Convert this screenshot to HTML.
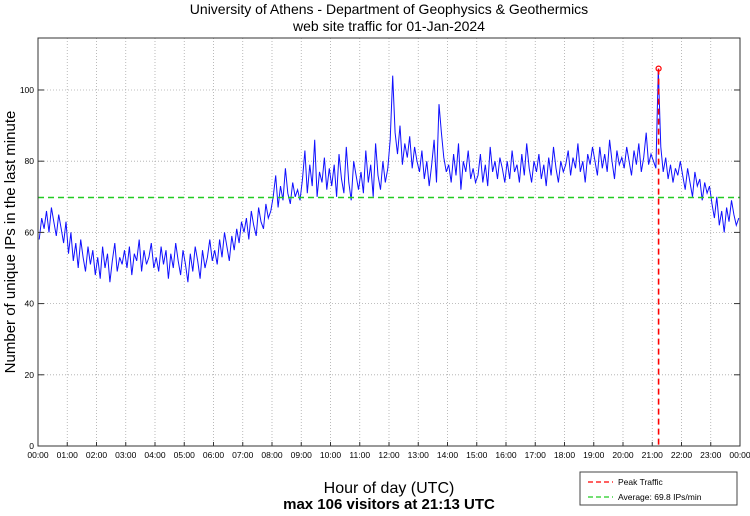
<!DOCTYPE html>
<html><head><meta charset="utf-8"><style>
body{margin:0;background:#fff;}
svg text{font-family:"Liberation Sans",sans-serif;}
</style></head><body>
<svg id="chart" width="750" height="511" xmlns="http://www.w3.org/2000/svg">
<rect width="750" height="511" fill="#fff"/>
<text x="389" y="14" font-size="14" text-anchor="middle">University of Athens - Department of Geophysics &amp; Geothermics</text>
<text x="389" y="31" font-size="14" text-anchor="middle">web site traffic for 01-Jan-2024</text>
<text transform="translate(15,242) rotate(-90)" font-size="15" text-anchor="middle">Number of unique IPs in the last minute</text>
<text x="389" y="493" font-size="16" text-anchor="middle">Hour of day (UTC)</text>
<text x="389" y="509" font-size="15" font-weight="bold" text-anchor="middle">max 106 visitors at 21:13 UTC</text>
<g id="grid"></g><g id="series"></g><g id="axes"></g>
<g>
<rect x="580" y="472" width="157" height="33" fill="#fff" stroke="#444" stroke-width="1"/>
<line x1="588" y1="482" x2="613" y2="482" stroke="#f00" stroke-width="1.2" stroke-dasharray="5,3"/>
<text x="618" y="485" font-size="8.5">Peak Traffic</text>
<line x1="588" y1="497" x2="613" y2="497" stroke="#2c2" stroke-width="1.2" stroke-dasharray="5,3"/>
<text x="618" y="500" font-size="8.5">Average: 69.8 IPs/min</text>
</g>
</svg>
<script>
const hourLabels=["00:00","01:00","02:00","03:00","04:00","05:00","06:00","07:00","08:00","09:00","10:00","11:00","12:00","13:00","14:00","15:00","16:00","17:00","18:00","19:00","20:00","21:00","22:00","23:00","00:00"];
const yTicks=[0,20,40,60,80,100];
const averageValue=69.8;
const peakMinute=21*60+13;
const peakValue=106;
const visitors=[
58,64,61,66,60,67,63,59,65,61,57,63,
54,60,52,57,50,58,53,49,56,51,55,48,
53,47,56,50,54,46,52,57,49,53,51,55,
50,56,48,54,52,58,49,55,51,53,57,50,
53,49,56,51,55,47,54,50,57,52,48,55,
51,46,54,49,56,52,47,55,50,53,58,52,
55,51,58,53,60,56,52,59,55,61,57,63,
60,64,58,66,62,59,67,63,61,68,64,66,
70,76,67,73,69,78,71,68,74,70,72,69,
75,83,71,79,73,86,70,77,74,81,72,78,
73,79,70,82,75,71,84,74,69,80,76,72,
77,71,83,74,79,70,85,76,72,80,74,78,
86,104,88,82,90,79,85,81,87,78,84,80,
77,83,75,80,73,79,86,74,96,88,81,77,
79,74,82,76,85,72,80,77,83,75,78,74,
76,82,74,79,73,84,77,80,75,81,78,74,
80,75,83,77,79,74,82,76,85,78,74,80,
77,82,75,79,73,81,76,84,78,74,80,77,
79,83,76,81,78,85,77,80,74,82,79,84,
80,76,84,78,82,77,86,80,75,83,79,81,
78,84,80,76,83,79,85,77,81,88,79,82,
80,78,106,84,77,81,75,79,74,78,76,80,
76,72,78,74,70,77,73,75,69,74,71,73,
68,64,70,62,66,60,67,63,69,65,62,64];
const stepMinutes=5;
const L=38,R=740,T=38,B=446,YMAX=114.6;
const xs=m=>L+(R-L)*m/1440;
const ys=v=>B-(B-T)*v/YMAX;
const NS="http://www.w3.org/2000/svg";
function mk(tag,attrs,parent){const e=document.createElementNS(NS,tag);for(const k in attrs)e.setAttribute(k,attrs[k]);parent.appendChild(e);return e;}
const grid=document.getElementById('grid'),axes=document.getElementById('axes'),series=document.getElementById('series');
hourLabels.forEach((lab,i)=>{const x=xs(i*60);
 if(i>0&&i<24){const g=mk('line',{x1:x,x2:x,y1:T,y2:B,stroke:'#aaa','stroke-width':0.8,'stroke-dasharray':'1,2'},grid);
 
 }
 const tk=mk('line',{x1:x,x2:x,y1:B,y2:B-4,stroke:'#333'},axes);
 
 
 const t=mk('text',{x:x,y:458,'font-size':8.5,'text-anchor':'middle'},axes);t.textContent=lab;
 
 });
yTicks.forEach(v=>{const y=ys(v);
 if(v>0){const g=mk('line',{x1:L,x2:R,y1:y,y2:y,stroke:'#aaa','stroke-width':0.8,'stroke-dasharray':'1,2'},grid);
 
 }
 mk('line',{x1:L,x2:L+6,y1:y,y2:y,stroke:'#333'},axes);
 mk('line',{x1:R,x2:R-6,y1:y,y2:y,stroke:'#333'},axes);
 const t=mk('text',{x:34,y:y+3,'font-size':8.5,'text-anchor':'end'},axes);t.textContent=v;
 
 });
const fr=mk('rect',{x:L,y:T,width:R-L,height:B-T,fill:'none',stroke:'#333','stroke-width':1},axes);


const pts=visitors.map((v,i)=>xs(i*stepMinutes+stepMinutes/2).toFixed(1)+','+ys(v).toFixed(1)).join(' ');
const line=mk('polyline',{points:pts,fill:'none',stroke:'#1010ff','stroke-width':1},series);


const avg=mk('line',{x1:L,x2:R,y1:ys(averageValue),y2:ys(averageValue),stroke:'#2c2','stroke-width':1.6,'stroke-dasharray':'6,4'},series);


const pk=mk('line',{x1:xs(peakMinute),x2:xs(peakMinute),y1:ys(peakValue),y2:B,stroke:'#f00','stroke-width':1.6,'stroke-dasharray':'6,4'},series);


const pm=mk('circle',{cx:xs(peakMinute),cy:ys(peakValue),r:2.5,fill:'none',stroke:'#f00','stroke-width':1.2},series);


</script>
</body></html>
